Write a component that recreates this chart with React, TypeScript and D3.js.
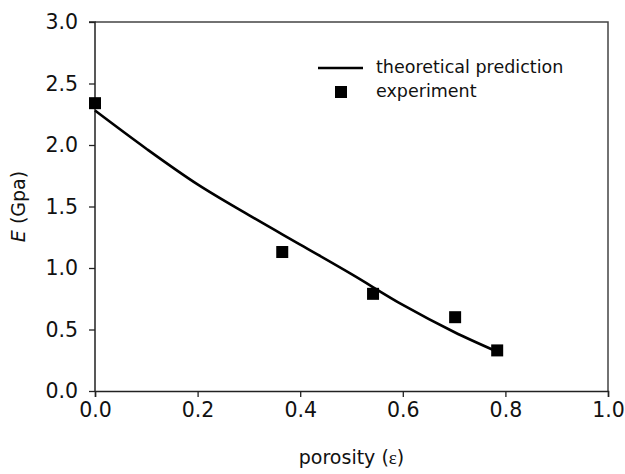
import React, { useEffect, useRef } from 'react';
import * as d3 from 'd3';

// theoretical curve
const theoryPorosity = [0, 0.1, 0.2, 0.3, 0.4, 0.5, 0.6, 0.7, 0.784];
const theoryModulus = [2.28, 1.97, 1.68, 1.43, 1.19, 0.95, 0.7, 0.48, 0.32];

// measured points
const expPorosity = [0, 0.365, 0.542, 0.702, 0.784];
const expModulus = [2.34, 1.13, 0.79, 0.6, 0.33];

const xTicks = [0, 0.2, 0.4, 0.6, 0.8, 1.0];
const yTicks = [0, 0.5, 1.0, 1.5, 2.0, 2.5, 3.0];

const width = 625;
const height = 474;
const margin = { top: 22, right: 17, bottom: 83, left: 95 };
const FONT = '"DejaVu Sans", sans-serif';

const App = () => {
  const svgRef = useRef<SVGSVGElement>(null);

  useEffect(() => {
    const svg = d3.select(svgRef.current);
    svg.selectAll('*').remove();

    const x = d3.scaleLinear().domain([0, 1]).range([margin.left, width - margin.right]);
    const y = d3.scaleLinear().domain([0, 3]).range([height - margin.bottom, margin.top]);

    // frame (top + right)
    svg.append('path')
      .attr('d', `M${x(0)},${y(3)}H${x(1)}V${y(0)}`)
      .attr('fill', 'none')
      .attr('stroke', '#444')
      .attr('stroke-width', 1.5);

    const xAxis = svg.append('g')
      .attr('transform', `translate(0,${y(0)})`)
      .call(d3.axisBottom(x).tickValues(xTicks).tickSize(6).tickPadding(5).tickFormat(d3.format('.1f')));

    const yAxis = svg.append('g')
      .attr('transform', `translate(${x(0)},0)`)
      .call(d3.axisLeft(y).tickValues(yTicks).tickSize(6).tickPadding(11).tickFormat(d3.format('.1f')));

    [xAxis, yAxis].forEach(g => {
      g.select('.domain').attr('stroke', '#222').attr('stroke-width', 1.5);
      g.selectAll('.tick line').attr('stroke', '#222').attr('stroke-width', 1.3);
      g.selectAll('.tick text')
        .attr('font-family', FONT)
        .attr('font-size', 20.5)
        .attr('fill', '#111');
    });
    yAxis.selectAll('.domain').attr('d', `M-6,${y(3)}H0V${y(0)}`);

    // theoretical curve
    const line = d3.line<number>()
      .x((d, i) => x(theoryPorosity[i]))
      .y(d => y(d))
      .curve(d3.curveCatmullRom.alpha(0.5));

    svg.append('path')
      .attr('d', line(theoryModulus))
      .attr('fill', 'none')
      .attr('stroke', '#000')
      .attr('stroke-width', 2.6);

    // experiment squares
    const s = 12;
    svg.append('g')
      .selectAll('rect')
      .data(expModulus)
      .enter().append('rect')
      .attr('x', (d, i) => x(expPorosity[i]) - s / 2)
      .attr('y', d => y(d) - s / 2)
      .attr('width', s)
      .attr('height', s)
      .attr('fill', '#000');

    // legend
    const lg = svg.append('g').attr('font-family', FONT).attr('font-size', 17.5).attr('fill', '#111');
    lg.append('line')
      .attr('x1', 318).attr('x2', 363).attr('y1', 68).attr('y2', 68)
      .attr('stroke', '#000').attr('stroke-width', 2.6);
    lg.append('text').attr('x', 376).attr('y', 73).text('theoretical prediction');
    lg.append('rect')
      .attr('x', 341 - s / 2).attr('y', 92 - s / 2).attr('width', s).attr('height', s)
      .attr('fill', '#000');
    lg.append('text').attr('x', 376).attr('y', 97).text('experiment');

    // axis titles
    const xt = svg.append('text')
      .attr('x', (x(0) + x(1)) / 2)
      .attr('y', 464)
      .attr('text-anchor', 'middle')
      .attr('font-family', FONT)
      .attr('font-size', 19)
      .attr('fill', '#111');
    xt.append('tspan').text('porosity (');
    xt.append('tspan').attr('font-family', '"Liberation Serif", serif').text('ε');
    xt.append('tspan').text(')');

    const yt = svg.append('text')
      .attr('transform', `translate(25,${(y(0) + y(3)) / 2}) rotate(-90)`)
      .attr('text-anchor', 'middle')
      .attr('font-family', FONT)
      .attr('font-size', 19)
      .attr('fill', '#111');
    yt.append('tspan').attr('font-style', 'italic').text('E');
    yt.append('tspan').text(' (Gpa)');
  }, []);

  return (
    <svg
      ref={svgRef}
      width={width}
      height={height}
      style={{ position: 'absolute', left: 0, top: 0, background: '#fff' }}
    />
  );
};

export default App;
